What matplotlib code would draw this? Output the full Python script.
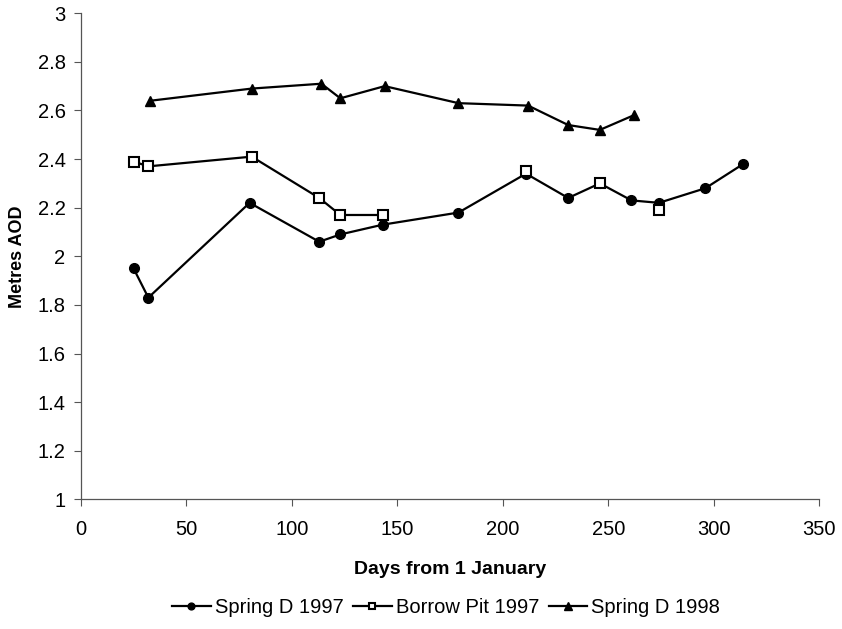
import matplotlib
matplotlib.use("Agg")
import matplotlib.pyplot as plt
import numpy as np

plt.rcParams["font.family"] = ["Liberation Sans", "DejaVu Sans"]

nan = np.nan

# Spring D 1997
days_d97 = [25, 32, 80, 113, 123, 143, 179, 211, 231, 246, 261, 274, 296, 314]
level_d97 = [1.95, 1.83, 2.22, 2.06, 2.09, 2.13, 2.18, 2.34, 2.24, 2.30, 2.23, 2.22, 2.28, 2.38]

# Borrow Pit 1997 (blank readings leave gaps in the line)
days_bp97 = [25, 32, 81, 113, 123, 143, 179, 211, 231, 246, 261, 274]
level_bp97 = [2.39, 2.37, 2.41, 2.24, 2.17, 2.17, nan, 2.35, nan, 2.30, nan, 2.19]

# Spring D 1998
days_d98 = [33, 81, 114, 123, 144, 179, 212, 231, 246, 262]
level_d98 = [2.64, 2.69, 2.71, 2.65, 2.70, 2.63, 2.62, 2.54, 2.52, 2.58]

xticks = [0, 50, 100, 150, 200, 250, 300, 350]
yticks = [1, 1.2, 1.4, 1.6, 1.8, 2, 2.2, 2.4, 2.6, 2.8, 3]
ytick_labels = ["1", "1.2", "1.4", "1.6", "1.8", "2", "2.2", "2.4", "2.6", "2.8", "3"]

fig = plt.figure(figsize=(8.42, 6.29), dpi=100)
ax = fig.add_axes([0.096, 0.206, 0.877, 0.773])

ax.plot(days_d97, level_d97, color="black", lw=1.6, marker="o", ms=7,
        label="Spring D 1997")
ax.plot(days_bp97, level_bp97, color="black", lw=1.6, marker="s", ms=6.5,
        mfc="white", mec="black", mew=1.5, label="Borrow Pit 1997")
ax.plot(days_d98, level_d98, color="black", lw=1.6, marker="^", ms=7.5,
        label="Spring D 1998")

ax.set_xlim(0, 350)
ax.set_ylim(1, 3)
ax.set_xticks(xticks)
ax.set_yticks(yticks)
ax.set_yticklabels(ytick_labels)
ax.tick_params(labelsize=14.5, direction="out", length=5, width=0.8,
               color="#555555", pad=6)
ax.tick_params(axis="x", pad=10)

for side in ["top", "right"]:
    ax.spines[side].set_visible(False)
for side in ["left", "bottom"]:
    ax.spines[side].set_color("#555555")
    ax.spines[side].set_linewidth(0.9)

ax.set_xlabel("Days from 1 January", fontsize=14, fontweight="bold", labelpad=16)
ax.set_ylabel("Metres AOD", fontsize=13, fontweight="bold", labelpad=8)

fig.legend(loc="lower center", bbox_to_anchor=(0.53, -0.01), ncol=3, frameon=False,
           fontsize=14.5, handlelength=1.9, handletextpad=0.2, columnspacing=0.5,
           markerscale=0.7)

fig.savefig("out.png", dpi=100, facecolor="white")
